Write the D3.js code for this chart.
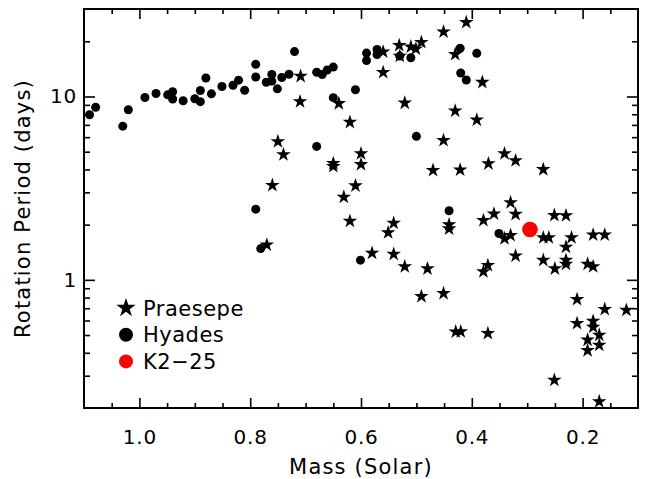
<!DOCTYPE html>
<html>
<head>
<meta charset="utf-8">
<script src="https://cdn.jsdelivr.net/npm/d3@7"></script>
<style>
  html, body { margin: 0; padding: 0; background: #fff; }
  svg { display: block; }
  text { font-family: "DejaVu Sans", sans-serif; fill: #000; }
</style>
</head>
<body>
<svg id="chart" width="647" height="479"></svg>
<script>
// Praesepe rotation periods (stars)
const praesepeMass = [0.709, 0.710, 0.640, 0.620, 0.750, 0.740, 0.760, 0.650, 0.650, 0.600,
  0.600, 0.610, 0.631, 0.560, 0.560, 0.531, 0.530, 0.510, 0.501, 0.491,
  0.451, 0.410, 0.430, 0.521, 0.430, 0.451, 0.470, 0.421, 0.381, 0.391,
  0.370, 0.341, 0.321, 0.271, 0.330, 0.770, 0.620, 0.580, 0.541, 0.551,
  0.441, 0.441, 0.541, 0.521, 0.480, 0.491, 0.451, 0.429, 0.420, 0.371,
  0.379, 0.360, 0.321, 0.330, 0.341, 0.321, 0.371, 0.379, 0.251, 0.230,
  0.271, 0.261, 0.220, 0.230, 0.271, 0.250, 0.230, 0.230, 0.191, 0.181,
  0.181, 0.160, 0.210, 0.160, 0.121, 0.210, 0.181, 0.181, 0.170, 0.191,
  0.170, 0.191, 0.251, 0.170];
const praesepePeriod = [12.90, 9.37, 9.16, 7.24, 5.68, 4.82, 3.28, 4.32, 4.16, 4.88,
  4.26, 3.26, 2.83, 17.51, 13.54, 19.00, 16.61, 18.67, 18.18, 19.75,
  22.50, 25.38, 16.99, 9.22, 8.34, 5.76, 3.96, 3.98, 11.96, 7.45,
  4.30, 4.88, 4.47, 4.00, 2.64, 1.55, 2.09, 1.40, 2.04, 1.81,
  2.00, 1.90, 1.38, 1.18, 1.15, 0.812, 0.843, 0.521, 0.522, 0.511,
  2.11, 2.29, 2.28, 1.75, 1.68, 1.35, 1.20, 1.11, 2.25, 2.24,
  1.70, 1.70, 1.70, 1.51, 1.28, 1.15, 1.28, 1.22, 1.22, 1.18,
  1.76, 1.76, 0.782, 0.691, 0.684, 0.579, 0.596, 0.553, 0.500, 0.470,
  0.441, 0.412, 0.284, 0.217];

// Hyades rotation periods (filled circles)
const hyadesMass = [1.090, 1.079, 1.030, 1.020, 0.990, 0.970, 0.949, 0.940, 0.940, 0.921,
  0.900, 0.890, 0.890, 0.880, 0.870, 0.851, 0.831, 0.821, 0.810, 0.790,
  0.790, 0.771, 0.761, 0.761, 0.751, 0.743, 0.730, 0.720, 0.680, 0.670,
  0.661, 0.650, 0.650, 0.610, 0.590, 0.590, 0.571, 0.571, 0.530, 0.510,
  0.421, 0.420, 0.410, 0.391, 0.680, 0.500, 0.790, 0.781, 0.601, 0.441,
  0.351];
const hyadesPeriod = [7.95, 8.74, 6.89, 8.47, 9.88, 10.38, 10.21, 10.61, 9.69, 9.48,
  9.72, 10.78, 9.37, 12.61, 10.34, 11.34, 11.52, 12.27, 10.82, 14.97,
  12.77, 11.96, 13.18, 12.12, 11.01, 12.69, 13.22, 17.58, 13.56, 13.18,
  13.94, 14.47, 9.85, 10.88, 17.25, 15.70, 18.03, 16.93, 16.61, 16.26,
  18.32, 13.43, 12.30, 17.19, 5.34, 6.06, 2.43, 1.48, 1.28, 2.38,
  1.79];

// K2-25
const k2Mass = [0.295];
const k2Period = [1.88];

// Axis ticks
const massMajorTicks = [1.0, 0.8, 0.6, 0.4, 0.2];
const massMajorLabels = ["1.0", "0.8", "0.6", "0.4", "0.2"];
const massMinorTicks = [1.05, 0.95, 0.9, 0.85, 0.75, 0.7, 0.65, 0.55, 0.5, 0.45, 0.35, 0.3, 0.25, 0.15];
const periodMajorTicks = [1, 10];
const periodMajorLabels = ["1", "10"];
const periodMinorTicks = [0.3, 0.4, 0.5, 0.6, 0.7, 0.8, 0.9, 2, 3, 4, 5, 6, 7, 8, 9, 20];

const legendLabels = ["Praesepe", "Hyades", "K2\u221225"];

const W = 647, H = 479;
const margin = { left: 84, right: 9, top: 9, bottom: 71 };
const svg = d3.select("#chart");

const x = d3.scaleLinear().domain([1.1, 0.1]).range([margin.left, W - margin.right]);
const y = d3.scaleLog().domain([0.2, 30]).range([H - margin.bottom, margin.top]);

const starSym = d3.symbol().type(d3.symbolStar).size(66);

// points
const gPts = svg.append("g");
gPts.selectAll("path.praesepe")
  .data(d3.range(praesepeMass.length))
  .join("path")
  .attr("class", "praesepe")
  .attr("transform", i => `translate(${x(praesepeMass[i])},${y(praesepePeriod[i])})`)
  .attr("d", starSym)
  .attr("fill", "#000");

gPts.selectAll("circle.hyades")
  .data(d3.range(hyadesMass.length))
  .join("circle")
  .attr("class", "hyades")
  .attr("cx", i => x(hyadesMass[i]))
  .attr("cy", i => y(hyadesPeriod[i]))
  .attr("r", 4.5)
  .attr("fill", "#000");

gPts.selectAll("circle.k2")
  .data(d3.range(k2Mass.length))
  .join("circle")
  .attr("class", "k2")
  .attr("cx", i => x(k2Mass[i]))
  .attr("cy", i => y(k2Period[i]))
  .attr("r", 7.8)
  .attr("fill", "#ff0000");

// axes: ticks point inward on all four sides
const bottomY = H - margin.bottom, topY = margin.top;
const leftX = margin.left, rightX = W - margin.right;

function styleAxis(g) {
  g.select(".domain").remove();
  g.selectAll(".tick line").attr("stroke", "#000").attr("stroke-width", 1.6);
}

const tickFont = 20;
const titleFont = 21;

// bottom
svg.append("g").attr("transform", `translate(0,${bottomY})`)
  .call(d3.axisBottom(x).tickValues(massMinorTicks).tickSize(-5).tickFormat(""))
  .call(styleAxis);
const xb = svg.append("g").attr("transform", `translate(0,${bottomY})`)
  .call(d3.axisBottom(x).tickValues(massMajorTicks).tickSize(-10).tickPadding(22)
    .tickFormat((d, i) => massMajorLabels[i]))
  .call(styleAxis);
xb.selectAll(".tick text").style("font-size", tickFont + "px")
  .style("letter-spacing", "0.8px").attr("fill", "#000");

// top
svg.append("g").attr("transform", `translate(0,${topY})`)
  .call(d3.axisTop(x).tickValues(massMinorTicks).tickSize(-5).tickFormat(""))
  .call(styleAxis);
svg.append("g").attr("transform", `translate(0,${topY})`)
  .call(d3.axisTop(x).tickValues(massMajorTicks).tickSize(-10).tickFormat(""))
  .call(styleAxis);

// left
svg.append("g").attr("transform", `translate(${leftX},0)`)
  .call(d3.axisLeft(y).tickValues(periodMinorTicks).tickSize(-6).tickFormat(""))
  .call(styleAxis);
const yl = svg.append("g").attr("transform", `translate(${leftX},0)`)
  .call(d3.axisLeft(y).tickValues(periodMajorTicks).tickSize(-11).tickPadding(7)
    .tickFormat((d, i) => periodMajorLabels[i]))
  .call(styleAxis);
yl.selectAll(".tick text").style("font-size", tickFont + "px")
  .style("letter-spacing", "0.8px").attr("fill", "#000");

// right
svg.append("g").attr("transform", `translate(${rightX},0)`)
  .call(d3.axisRight(y).tickValues(periodMinorTicks).tickSize(-6).tickFormat(""))
  .call(styleAxis);
svg.append("g").attr("transform", `translate(${rightX},0)`)
  .call(d3.axisRight(y).tickValues(periodMajorTicks).tickSize(-11).tickFormat(""))
  .call(styleAxis);

// frame
svg.append("rect")
  .attr("x", leftX).attr("y", topY)
  .attr("width", rightX - leftX).attr("height", bottomY - topY)
  .attr("fill", "none").attr("stroke", "#000").attr("stroke-width", 2);

// axis titles
svg.append("text")
  .attr("x", (leftX + rightX) / 2).attr("y", 474)
  .attr("text-anchor", "middle")
  .style("font-size", titleFont + "px")
  .style("letter-spacing", "1.2px")
  .text("Mass (Solar)");

svg.append("text")
  .attr("transform", `translate(30,${(topY + bottomY) / 2}) rotate(-90)`)
  .attr("text-anchor", "middle")
  .style("font-size", titleFont + "px")
  .style("letter-spacing", "1.2px")
  .text("Rotation Period (days)");

// legend
const legX = 126, legY0 = 308, legDy = 26.7;
const leg = svg.append("g");
leg.append("path")
  .attr("transform", `translate(${legX},${legY0})`)
  .attr("d", d3.symbol().type(d3.symbolStar).size(115)())
  .attr("fill", "#000");
leg.append("circle").attr("cx", legX).attr("cy", legY0 + legDy).attr("r", 7).attr("fill", "#000");
leg.append("circle").attr("cx", legX).attr("cy", legY0 + 2 * legDy).attr("r", 7).attr("fill", "#ff0000");
leg.selectAll("text")
  .data(legendLabels)
  .join("text")
  .attr("x", legX + 17)
  .attr("y", (d, i) => legY0 + i * legDy)
  .attr("dy", "0.36em")
  .style("font-size", "21px")
  .style("letter-spacing", "0.5px")
  .text(d => d);
</script>
</body>
</html>
